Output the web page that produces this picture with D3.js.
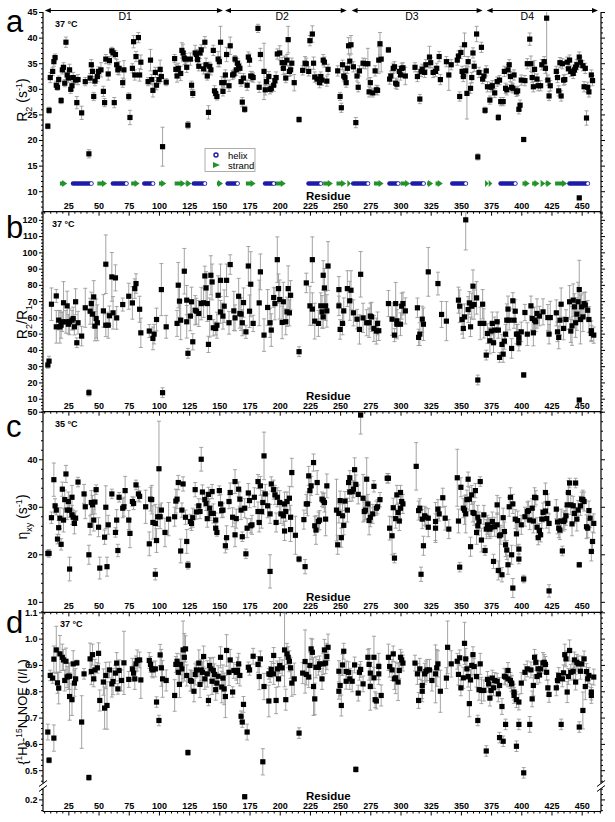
<!DOCTYPE html>
<html>
<head>
<meta charset="utf-8">
<script src="https://cdn.jsdelivr.net/npm/d3@7"></script>
<style>
  body { margin: 0; background: #fff; }
  svg { display: block; font-family: "Liberation Sans", Arial, sans-serif; }
</style>
</head>
<body>
<svg id="chart" width="615" height="822"></svg>
<script>
// [residue, value, error]
const r2Rows = [
[8,22.7,.5],[9,25.8,.6],[10,32.2,1],[12,33.4,.8],[13,35.3,.9],[14,36.1,.7],[15,30.7,.8],[16,30.3,.6],[17,31.8,.7],[19,27.7,.6],[20,33.7,.8],[21,34.2,.9],[22,31.1,.7],[23,39.1,1],[24,32.7,.8],[25,32.1,.9],[26,33.7,1.1],[27,29.9,.8],[28,30.6,.9],[29,32.2,1],[31,31.7,.8],[32,27.3,1.2],[33,31.8,1],[36,25.3,1.3],[39,31.4,.8],[42,17.3,.8],[43,32.1,.9],[44,34.7,1],[45,33.4,1.1],[46,28.5,.8],[47,31.5,.9],[49,32.4,1],[50,33.4,.9],[52,33.7,1.4],[54,29.5,1],[55,27.3,.8],[56,35.8,.9],[58,32.9,1.2],[59,35.5,.8],[61,37.4,.7],[62,37,.8],[63,27.3,1],[64,36.7,.8],[65,34.7,1],[66,33.7,.9],[67,34,1.3],[70,31.2,.9],[71,33.7,1.8],[75,28.5,.7],[76,24.4,1.4],[78,34,.9],[79,39.2,1.2],[80,32.7,1],[81,36.3,1],[83,40,1],[84,32.7,1.2],[85,35.2,1.4],[91,31.4,.8],[93,35.6,2.1],[94,31.8,1],[95,29.7,1.3],[97,33.2,1],[98,30.7,.9],[100,31.8,.8],[101,33.8,1.8],[102,32.4,1],[103,18.7,3.8],[106,31.3,.7],
[113,35.9,.8],[114,33.8,1],[115,32.5,1.2],[116,34,1],[118,33,1.4],[119,37.5,1.5],[120,37,1.7],[121,36,1.3],[122,35.8,1.1],[123,34.2,1],[124,22.9,.7],[126,35.8,1.2],[127,30.7,.8],[128,29.1,.8],[130,37,1.5],[131,36.7,1],[132,35.7,1],[133,34.4,.9],[134,37,1.1],[135,37.6,1],[137,33.9,1],[138,39.1,1.1],[139,34.7,1.3],[140,32.5,.8],[141,25.4,1.3],[142,34.4,.8],[143,33.7,1],[145,37.5,1],[146,29.6,1],[147,29.1,.9],[148,28.5,.7],[149,35.8,1.5],[150,35.3,1],[151,39.1,3.1],[152,31.2,1.2],[153,29.5,.9],
[154,31.2,1],[155,32.7,1],[156,36.7,1.4],[158,30.6,1.1],[159,38.4,1.7],[161,32.7,.9],[162,32.9,.8],[163,35.8,.7],[164,33.7,1.1],[165,35,.9],[166,34.4,1],[167,34,1],[168,31.4,.9],[169,27.4,.9],[170,32.1,.9],[171,26,.6],[173,30.7,1],[174,36.2,1],[175,35.6,1.2],[176,32.5,.9],[177,32.4,1],[178,32.2,.9],[182,41.8,.8],[183,30.3,1],[184,36.7,1.2],[187,33.4,5.5],[188,29.8,1],[189,31.4,.8],[191,32.4,1],[192,29.9,.9],[193,30.1,.8],[195,30.7,1.2],[196,31.6,1],[197,32.2,1.1],[198,36.8,1],[200,37,1.4],[202,35.1,1],[203,34,1.2],[204,35.1,1.3],[205,32.1,.9],[206,35.6,1.1],[207,39.6,2.6],[208,33.4,1],[209,33.7,1.1],[210,35,1],[212,31.2,1.6],[216,24,.5],[219,33.6,.9],[221,35,1.3],[222,34.9,1.1],[224,33.4,.9],[225,39.4,1],[227,40.7,1.6],[228,35,1.2],[229,32.3,1],[231,31.9,.9],[233,31.2,1],[234,32.4,.9],[235,31.7,1],[236,35.6,1.1],[237,35.2,1],[239,31.5,1],[240,33.8,1],
[248,33.5,1],[250,28.5,.8],[251,26.3,.9],[252,34.7,.9],[253,32.5,1],[254,32.2,.9],[255,31.2,.9],[256,34,1],[257,38.4,1.6],[258,35.4,1.2],[259,38.6,1.8],[261,34.3,1],[263,23.4,1],[264,32.5,1],[265,30.3,.9],[266,33.5,1],[269,35,1],[271,34.9,1],[273,34.9,3],[274,29.4,1],[275,31.2,1],[277,29.2,.8],[279,33.5,1],[280,29.8,.9],[281,29.7,.9],[282,35.6,2.6],[283,38.8,2.2],[284,35.8,2.5],[290,37.6,.5],[291,31.9,1],[292,32.5,1],[294,34,1],[295,34.3,1],[296,31.1,1],[297,30.9,1],[299,33.4,1],[300,32.7,1],[301,34,1],[302,34.1,1],[304,32.5,1.7],[312,34.2,.9],[314,32.4,1],[316,28,.9],[317,33.4,1],[318,33.8,1],[320,33.2,1],[321,34.7,1],[324,36.2,2.1],[325,35.1,1],[327,33.2,1],[329,33.4,1],[330,34,1],[332,36.3,1],[333,31.8,1],[338,35.3,1],[340,32.7,3],[342,34.7,1],[347,35.6,1],[348,36.4,1],[349,28.5,.9],[350,37.1,1.2],[351,33.4,1],[352,32.4,1],[353,38.6,2.3],[354,33.5,1],[355,29.1,5],[356,35.3,1],[358,30.1,1],[359,32.2,1],[360,37,1],[361,34.4,1],[363,40.7,1.5],[364,16.7,.6],[365,33.2,1],[367,38.1,1],[368,31.9,.9],[369,32.5,1],
[370,25.8,.6],[371,33.5,1],[372,30.4,1],[374,27.8,.8],[375,30.3,.9],[376,30.6,1],[378,29.2,.9],[380,31.4,.9],[381,24.4,.6],[382,31.7,.9],[383,27.5,.8],[385,27.5,.8],[386,33.4,1],[387,30.1,1],[388,29.8,1],[389,33.7,1],[390,34.7,1],[391,32.4,1],[392,30.3,.9],[393,30.1,.9],[394,32.7,1],[396,29.4,.9],[397,29.6,.9],[398,26,.9],[399,26.8,1],[400,31.7,1],[402,20.1,.4],[403,31.6,1],[405,34.9,1],[407,39.7,1.2],[408,34.9,1.5],[409,32.2,1],[410,30.4,1],[411,33.8,1.7],[413,31.9,1],[414,30.6,1],[416,30.6,1],[417,34.7,1],[419,35.3,1],[420,34,1],[421,43.8,12],[422,31.7,1],[423,28.6,.9],[424,30.6,1],[429,33.4,1],[430,32.2,1],[431,29.6,1],[432,35.1,1],[433,28.6,1],[434,34.9,1],[435,31.7,1],[436,31.8,1],[438,35.2,1],[439,33.9,1],[440,35.6,1],[441,33.4,1],[443,33,1],[444,33.7,1],[445,34.2,1],[446,34.7,1],[448,36.2,1],[449,35.2,1],[451,34.5,1],[452,30.4,1],[453,34,1],[454,24.3,1.4],[455,30.3,1],[456,29.4,1],[458,32.7,1],[459,31.6,1],[448,8.7,0]
];

const ratioRows = [
[8,30.7,2],[9,33.1,3],[11,68.1,10],[15,73.2,4],[15,54.2,10],[17,58.3,6],[18,54.2,10],[19,55.2,8],[20,57.3,6],[21,69,13],[23,57.3,7],[24,67.1,9],[25,55.8,6],[26,57.3,8],[28,58.3,6],[29,59.3,7],[30,54.2,5],[31,69.6,8],[32,44.4,3],[33,56.7,7],[36,48.5,6],[39,65.9,12],[42,13.7,2],[43,63.8,8],[44,68.5,7],[45,62,8],[46,72.6,10],[47,54.6,9],[48,59.3,12],[49,56.7,11],[54,64,10],[56,92.7,18],[56,55.2,7],[58,55.2,8],[59,61,6],[61,84.9,15],[62,62.8,10],[64,84.3,8],[65,59.7,7],[70,67.9,4],[75,73,8],[78,68.9,10],[80,77.7,6],[81,80.8,6],[84,65,8],[85,50.5,9],[92,51.6,4],[95,47.1,7],[96,49.7,6],[98,58.7,7],[102,77.1,16],[103,13.7,3],[106,54.2,7],
[115,56.3,8],[116,79.8,14],[117,70,10],[118,58.3,12],[121,88.4,14],[123,70.6,9],[123,57.3,10],[124,37.9,3],[126,60.8,9],[127,69.6,9],[128,45,5],[130,64.4,9],[131,63.8,8],[133,62.4,8],[135,68.5,10],[137,69,9],[138,85.5,6],[139,78.1,10],[140,68.5,11],[141,43.4,5],[142,59.9,12],[143,85.9,12],[144,81.8,11],[145,53.6,5],[147,53.2,4],[148,55.2,8],[149,73.6,12],[151,82.8,10],[151,63.4,7],[153,60.8,8],[154,66.9,10],[156,82.8,10],[158,56.7,7],[159,92.5,6],[162,64,12],[163,59.7,8],[166,73,11],[167,62.4,9],[168,62,10],[169,56.7,8],[170,69.1,9],[172,51.1,4],[174,91.6,12],[175,63.8,10],[176,80.4,20],[178,56.3,5],[183,68.9,14],[184,88,11],[187,49.1,10],[190,66.1,11],[192,56.7,9],[193,52.2,10],[195,72.2,6],[196,68.5,10],[198,95.5,14],[199,77.7,9],[200,71,12],[202,56.9,10],[203,69.6,12],[205,57.3,8],[206,63.4,9],[207,77.7,14],[208,62.8,8],[209,73.6,9],[216,38.9,3],
[222,81.2,6],[225,67.1,12],[227,65.1,10],[227,95.5,14],[229,57.7,11],[232,56.3,8],[234,67.1,8],[235,63.4,10],[236,60.3,7],[236,85.9,9],[237,78.1,12],[238,67.1,9],[239,64,10],[240,91.6,15],[249,77.1,8],[249,67.1,6],[250,52.6,6],[252,56.3,7],[253,64,8],[256,77.7,11],[258,70.2,12],[259,76.7,12],[261,62.8,8],[264,58.9,6],[266,52.6,9],[267,86.5,14],[269,59.7,9],[272,56.7,8],[274,56.7,9],[275,60.8,8],[276,60.3,9],[278,53.2,8],[280,51.6,8],[281,56.3,7],[282,51.8,6],[290,68.5,8],[293,58.9,10],[295,49.1,4],[296,68.5,13],[297,55.8,9],[297,57.9,10],[300,55.8,7],[301,66.9,8],[302,68.5,7],[304,64,8],[314,65.9,6],[315,47.7,5],[316,49.7,7],[318,58.9,8],[319,55.8,10],[323,88,15],[331,80.8,7],[334,61.8,8],[338,57.7,12],
[348,70.6,8],[349,66.9,10],[351,58.7,9],[352,53.2,6],[353,60.3,8],[354,120,18.5],[356,64.8,8],[357,68.9,7],[358,54.2,6],[359,66.9,8],[360,79.2,10],[361,67.9,9],[363,72,10],[364,21.5,3],[366,56.3,10],[368,68.1,9],[369,56.3,9],[371,36.8,3],[372,50.1,6],[374,45.6,8],[375,51.6,5],[376,56.3,7],[377,44.4,6],[378,52.2,8],[380,57.3,6],[381,52.2,5],[382,35.4,3],[384,43.4,6],[385,37.4,5],[386,45.4,5],[387,49.7,6],[388,58.3,10],[389,65.1,8],[390,58.3,6],[392,40.9,6],[393,70.2,5],[394,58.3,5],[395,63.8,7],[396,49.7,6],[397,49.7,6],[398,44.4,5],[398,47.5,5],[400,51.1,6],[402,24.6,1.5],[403,63,5],[405,49.7,7],[408,67.1,6],[409,59.3,7],[410,50.5,8],[411,58.3,8],[412,57.3,6],[413,62.4,9],[415,60.8,6],[418,63.4,8],[422,59.9,8],[423,49.7,6],[424,59.9,10],[429,62.8,8],[430,51.1,6],[431,47.7,7],[432,58.3,9],[433,68.1,10],[435,53.2,7],[437,58.7,6],[440,69.6,10],[441,51.6,7],[442,54.8,12],[443,70.6,10],[444,66.5,8],[445,56.7,9],[446,62,10],[447,69.6,12],[448,77.1,18],[449,58.7,15],[450,66.5,8],[451,60.3,9],[452,68.5,7],[453,67.5,8],[455,64.4,6],[456,58.7,8],[458,51.8,6],[458,50.1,5],[460,49.1,5],[448,9.2,.5]
];

const etaRows = [
[8,20.2,.7],[9,20.2,.8],[11,27.7,1.2],[13,35.7,3.5],[14,30.2,1.5],[15,29.3,1],[16,23.2,1],[17,25.6,1.5],[18,27.6,2.2],[19,22.1,1.2],[20,33.7,1.5],[21,27.2,2.5],[22,31.5,2],[23,36.9,1.8],[24,29.3,2],[25,31.1,2],[26,16.9,2.5],[26,29.3,1.5],[28,32,2.5],[28,28.3,2],[29,27.8,1.5],[30,26.5,2.2],[31,27.6,1.5],[33,35.2,1],[38,32.7,2],[39,30,2.5],[42,19.9,2],[43,26.1,2],[44,30.9,2.5],[45,30.4,2],[46,27.2,2.3],[47,31,2.5],[48,33.6,1],[50,25.7,2],[51,17.1,2.3],[55,23.6,1.5],[56,29.9,4.5],[57,17.4,2],[58,26.2,2],[61,32.7,1],[64,24.6,1],[65,27.2,2.2],[66,20.8,1.3],[67,32,1],[70,29.7,2],[71,30,2],[72,33.4,3],[75,27.2,2],[76,24.4,3],[78,31.1,1],[79,30.7,1.3],[81,34.6,1],[83,32.7,1.5],[84,32.2,1.2],[89,30,3.5],[92,22.2,2.5],[93,31.6,2.5],[94,31.5,3],[95,26.7,3.5],[97,26.5,4],[97,15.8,1.2],[98,22.9,2.5],[99,27.9,2],[100,38,10],[101,27.9,2.5],[102,29.3,1.5],[105,24.6,3],[108,27.4,3.5],
[113,27.9,2],[114,31.2,2.5],[115,31.6,2],[116,35.1,1.5],[118,20.7,2.5],[119,29.3,1.5],[120,34.8,1.5],[122,27.8,1.5],[123,22.7,2.5],[124,17.7,.8],[126,26.9,1.5],[127,26.5,1.5],[128,27.7,2],[130,33.6,1.5],[131,28.9,1.5],[133,30.2,1.5],[134,29,1.5],[135,40,2.5],[136,33.1,1.5],[138,31.5,1.5],[139,30.7,1.5],[140,27.5,1.8],[141,32.6,1.5],[142,29.7,2],[143,28.6,1.5],[144,33.2,1.5],[145,28.6,2],[147,27.2,1.5],[147,25.5,1],[148,24.6,.8],[150,33.4,1],[151,30.6,2],[152,29.2,1.5],[153,29.3,1.5],[155,21.8,1.5],[156,23.5,2.5],[158,31.1,1.5],[159,33,2],[161,27.8,2],[163,35.3,2.5],[163,24.1,2.5],[164,27.5,2],[166,33.7,1.5],[167,31.6,1.5],[168,29.3,2],[169,23.7,1],[171,29.7,2],[172,20.1,1],[173,25.5,2],[174,32.9,2],[175,31.3,1.5],[176,26,1.5],[177,26.2,2],[179,32,2],[182,29,2],[182,35.3,1.5],[183,26.7,2],[184,34.4,2],[185,29,3.5],[186,30.9,2.5],[187,40.7,5],[188,32.7,2],[190,30.2,2.5],[192,28.5,2],[192,16.4,3.5],[193,34.8,1.5],[195,33.6,2],[196,32.5,2],[197,26.7,2],[198,32,2],[200,30.9,2.5],[201,28.5,2],[203,28.1,2],[204,30.6,2.5],[204,24.9,2],[205,29,2],[206,31.1,2],[208,31.8,2.5],[209,27.8,2.5],[209,25.2,2.5],[210,37.2,3],[213,24,4],[216,19,.6],
[220,27.3,2],[221,17.4,1.5],[222,30.6,2],[223,30.6,2.5],[224,36.5,2],[225,33.4,2.5],[226,34.4,2],[228,39.3,1.8],[229,26,2],[230,25.1,3],[231,35.1,2.5],[232,26.9,2],[233,27.2,2],[235,31.6,1.5],[236,31.3,1.5],[237,30.9,2],[238,27.4,3.5],[239,34.4,2.5],[247,29.3,6.5],[248,22,2],[249,28.6,2],[250,31.3,2],[251,23.5,2],[252,28.1,2.5],[253,26.1,2],[254,31.2,2],[256,29.3,2.5],[257,35.1,1.5],[258,36.1,1.5],[258,33.1,2],[260,33.2,2],[261,33.7,1.8],[262,37.8,2.5],[263,34.7,2],[265,32.6,2],[267,49.3,4],[269,31.8,5],[270,29,2],[271,29.3,2],[272,35.8,4.5],[273,30.6,2],[274,27.1,3],[275,27.8,2],[277,28.5,2],[278,34.3,1.2],[280,29.7,1.5],[281,30,1.5],[283,31.5,1.5],[289,36,1],[290,36,1],[291,25.5,2.5],[293,23.9,4],[294,29.8,2],[295,19.2,1],[296,27.5,2],[297,32.5,2],[298,28.8,2],[299,27,2],[300,29.7,2.5],[300,33,1.5],[301,31.1,1.5],[302,30.6,2],
[313,38.5,5],[315,29.2,2],[316,29.7,2],[317,15.8,1.5],[318,27.4,2],[319,21.8,2],[320,28.1,2],[321,27.8,2],[323,25.7,2],[323,27.6,2],[329,26.9,4],[329,25.5,3],[331,29.5,2],[332,28.5,1.5],[335,31.9,2],[337,27.6,2.5],[340,25.3,2],[347,36.1,6],[348,27,2.5],[349,17.3,1],[350,34.1,2],[352,29.7,2],[353,29.3,3],[354,28.5,4],[355,31.5,2],[356,35.8,1.5],[357,31.6,2.5],[358,21.6,2],[359,32.5,2],[360,28.8,2],[361,28.6,2.5],[362,33.4,1.5],[363,24.6,2.5],[364,26,2],[364,27.8,2.5],[365,26.9,2],[366,35.3,1],[367,23,2.5],[369,28.3,2],
[370,20.8,1],[371,25.3,2],[372,26.2,2],[373,25.7,2],[374,25.3,2],[375,25.7,2],[376,26.9,2],[377,18.5,1.5],[378,25.8,2],[380,30.4,2],[380,26.2,2.5],[381,16.6,2],[382,23.9,8],[383,24.1,2],[384,15.7,1.5],[385,27.7,2],[386,24.8,2],[387,22,2.5],[388,20.9,2],[389,17.8,2],[390,30,2],[391,32,2],[392,19.9,2],[393,12.9,2],[393,30.6,2],[395,27.4,2],[396,24.3,2.5],[397,27.1,2],[398,21.1,1],[398,19,1],[400,26.2,2],[402,14.8,.8],[403,27.9,2],[405,29,2],[406,29.2,2],[407,27.2,2],[409,29.7,2],[410,27,2.5],[411,32,2],[412,31.9,1.5],[413,25.7,2],[414,23.5,1.5],[415,25,1.5],[416,24.1,1.5],[417,27.4,2],[418,28.8,2],[420,29.1,2],[420,33,2],[421,27.5,2],[422,30.7,2],[423,12.3,1.3],[423,26.5,2],[429,29.5,2],[430,26.8,2.5],[431,25.5,2],[432,25.1,2],[433,27,2.5],[434,20.7,1],[435,26.9,2],[436,27.2,2],[437,28.1,2],[438,30.4,2.5],[439,33,2.5],[440,35,1],[441,30.4,2],[442,26.4,2.5],[443,30.2,2],[444,28.6,2],[445,35,1],[446,27.4,2.5],[447,29.3,2],[448,17.8,.5],[449,30.2,2],[450,31.6,1.5],[451,31.5,2],[452,31.1,2],[454,25.8,2.5],[455,25.5,2],[456,29.2,2],[457,27.6,2],[458,20.6,2],[459,22.7,2],[460,26.5,2]
];

const noeRows = [
[8,.645,.03],[9,.538,.01],[10,.86,.02],[12,.85,.02],[13,.622,.05],[13,.922,.05],[15,.957,.09],[16,.832,.04],[17,.812,.06],[18,.942,.07],[20,.929,.05],[21,.919,.04],[22,.841,.04],[23,.914,.05],[24,.854,.04],[25,.857,.05],[26,.78,.09],[26,.857,.05],[28,.768,.06],[29,.904,.05],[30,.831,.05],[31,.847,.04],[32,.908,.01],[36,.683,.1],[38,.866,.02],[42,.472,.01],[43,.923,.06],[44,.875,.05],[45,.939,.04],[46,.847,.03],[47,.881,.04],[49,.889,.02],[50,.944,.04],[51,.765,.04],[54,.835,.05],[55,.736,.08],[56,.86,.05],[57,.746,.09],[59,.881,.03],[61,.828,.05],[62,.837,.05],[64,.869,.03],[65,.907,.04],[66,.809,.02],[67,.879,.04],[69,.841,.04],[71,.908,.12],[75,.845,.03],[78,.885,.04],[79,.869,.03],[80,.847,.04],[81,.904,.03],[82,.917,.04],[84,.919,.03],[85,.843,.07],[92,.917,.03],[93,.902,.03],[94,.885,.03],[95,.881,.03],[97,.885,.03],[98,.759,.02],[100,.689,.02],[101,.938,.04],[102,.889,.07],[103,.847,.07],[106,.841,.04],
[113,.784,.06],[114,.902,.03],[115,.914,.03],[116,.872,.04],[117,.826,.05],[118,.902,.04],[119,.885,.05],[120,.957,.11],[121,.929,.09],[122,.961,.05],[123,.86,.04],[124,.567,.01],[126,.841,.04],[127,.838,.04],[129,.8,.04],[130,.864,.04],[131,.881,.03],[133,.907,.05],[134,.826,.05],[135,.881,.04],[136,.872,.04],[137,.932,.04],[138,.847,.04],[140,.866,.05],[141,.765,.02],[142,.898,.03],[143,.885,.04],[144,.838,.05],[145,.879,.05],[146,.864,.04],[147,.806,.04],[148,.831,.04],[149,.857,.04],[151,.929,.04],[152,.816,.06],[153,.85,.05],[154,.809,.06],[155,.78,.08],[156,.955,.06],[158,.872,.05],[159,.919,.04],[161,.797,.02],[162,.879,.03],[164,.872,.03],[165,.879,.05],[166,.904,.04],[167,.86,.04],[168,.705,.02],[169,.683,.02],[170,.75,.03],[171,.21,.008],[173,.645,.03],[174,.891,.02],[175,.881,.02],[178,.933,.03],[182,.902,.03],[183,.856,.05],[184,.923,.03],[187,.818,.05],[186,.532,.05],[191,.763,.06],[191,.866,.02],[192,.864,.03],[193,.883,.03],[195,.936,.03],[195,.866,.04],[197,.765,.05],[198,.885,.03],[199,.847,.03],[200,.898,.03],[202,.889,.03],[204,.957,.14],[205,.768,.04],[206,.942,.04],[207,.929,.04],[208,.914,.04],[209,.889,.04],[210,.831,.05],[212,.847,.06],[216,.641,.02],
[219,.869,.04],[221,.913,.12],[222,.864,.04],[224,.854,.04],[225,.898,.05],[226,.961,.04],[227,.948,.05],[228,.818,.11],[229,.771,.06],[230,.891,.04],[232,.891,.03],[233,.904,.03],[235,.847,.04],[236,.904,.04],[237,.957,.04],[238,.907,.04],[239,.932,.05],[240,.967,.05],[249,.8,.03],[249,.876,.04],[250,.822,.04],[251,.746,.04],[252,.9,.04],[253,.952,.03],[255,.875,.04],[255,.838,.03],[257,.872,.04],[258,.847,.04],[260,.838,.04],[262,.9,.03],[263,.503,.01],[265,.793,.03],[266,.872,.03],[267,.883,.03],[269,.828,.03],[273,.929,.03],[274,.902,.06],[275,.818,.09],[275,.869,.04],[278,.851,.04],[278,.929,.08],[279,.768,.03],[280,.763,.03],[282,.866,.04],[282,.894,.05],[284,.784,.04],[290,.929,.05],[291,.894,.04],[293,.881,.04],[294,.942,.03],[295,.847,.04],[296,.851,.06],[298,.835,.07],[299,.879,.03],[300,.929,.03],[301,.919,.03],[302,.907,.03],
[312,.907,.03],[314,.866,.04],[315,.765,.03],[316,.885,.04],[318,.8,.04],[318,.822,.05],[320,.866,.04],[321,.875,.04],[322,.881,.04],[324,.881,.04],[326,.841,.04],[329,.866,.11],[330,.889,.07],[331,.904,.05],[333,.8,.08],[338,.85,.04],[339,.967,.1],[342,.904,.05],[347,.914,.03],[348,.864,.04],[349,.927,.03],[350,.813,.03],[352,.851,.04],[353,.982,.08],[354,.923,.04],[355,.885,.04],[356,.856,.04],[357,.753,.05],[358,.843,.04],[359,.898,.04],[360,.939,.03],[361,.894,.03],[363,.856,.04],[364,.689,.02],[365,.806,.04],[366,.904,.04],[367,.803,.05],[369,.803,.04],
[371,.573,.02],[372,.845,.03],[373,.828,.03],[374,.774,.03],[375,.803,.03],[376,.85,.03],[377,.813,.03],[378,.841,.03],[380,.838,.03],[381,.79,.03],[382,.624,.02],[382,.822,.03],[384,.742,.03],[385,.61,.02],[386,.857,.03],[387,.674,.02],[387,.854,.03],[389,.879,.03],[389,.847,.03],[391,.841,.03],[392,.828,.03],[392,.831,.03],[394,.784,.03],[394,.797,.03],[396,.768,.03],[396,.591,.02],[398,.674,.02],[398,.759,.03],[400,.831,.04],[402,.49,.02],[403,.872,.03],[405,.885,.03],[407,.674,.03],[408,.881,.03],[409,.771,.03],[410,.822,.04],[411,.929,.03],[412,.91,.03],[413,.856,.03],[414,.885,.03],[415,.862,.03],[416,.885,.03],[418,.907,.04],[419,.91,.03],[420,.902,.03],[421,.872,.03],[422,.813,.03],[423,.788,.03],[429,.813,.03],[430,.841,.03],[431,.86,.03],[433,.674,.02],[434,.847,.03],[435,.87,.03],[436,.939,.04],[437,.923,.03],[438,.797,.04],[439,.856,.03],[440,.955,.04],[441,.872,.03],[443,.876,.03],[444,.919,.03],[445,.835,.03],[446,.91,.03],[447,.904,.03],[448,.664,.02],[449,.876,.03],[450,.904,.03],[451,.727,.07],[452,.923,.03],[453,.818,.05],[454,.875,.03],[455,.847,.03],[456,.86,.03],[458,.797,.03],[458,.784,.03],[460,.854,.03]
];

// secondary structure (residue ranges)
const helices = [[27,46],[60,75],[86,97],[127,140],[155,167],[186,197],[222,236],[259,275],[289,300],[308,321],[341,356],[381,397],[438,457]];
const strands = [[18,24],[49,57],[77,84],[100,106],[113,122],[122,127],[148,153],[172,180],[196,205],[236,244],[247,255],[256,259],[278,286],[300,308],[322,327],[329,335],[370,373],[373,376],[401,407],[409,415],[416,420],[420,425],[428,438]];

// domains: name, start, end, label position
const domainNames = ["D1", "D2", "D3", "D4"];
const domainRanges = [[5.5,153],[154.7,255.5],[259.5,368],[371.3,463.5]];
const domainLabelAt = [72, 202, 309.5, 405];

const xMajor = d3.range(25, 451, 25);
const xMinor = d3.range(5, 466, 5).filter(v => v % 25 !== 0);

const svg = d3.select("#chart");
const plotLeft = 43, plotRight = 601;
const x = d3.scaleLinear().domain([4, 466]).range([plotLeft, plotRight]);

const blue = "#1c1ca8", green = "#22922a", errColor = "#9a9a9a";

const panels = [
  {
    id: "a", rows: r2Rows, top: 12, bottom: 211.7,
    y: d3.scaleLinear().domain([6, 45]).range([211.7, 12]),
    major: d3.range(10, 46, 5), minor: d3.range(6, 46, 1), fmt: d3.format("d"),
    temp: "37 °C", tempX: 55, letterY: 32,
    title: [["R"], ["2", "sub"], [" (s"], ["-1", "sup"], [")"]], titleY: 100
  },
  {
    id: "b", rows: ratioRows, top: 211.7, bottom: 411.7,
    y: d3.scaleLinear().domain([2, 125]).range([411.7, 211.7]),
    major: d3.range(10, 121, 10), minor: d3.range(2, 125, 2), fmt: d3.format("d"),
    temp: "37 °C", tempX: 52, letterY: 238,
    title: [["R"], ["2", "sub"], ["/R"], ["1", "sub"]], titleY: 322
  },
  {
    id: "c", rows: etaRows, top: 411.7, bottom: 612.3,
    y: d3.scaleLinear().domain([7.8, 50]).range([612.3, 411.7]),
    major: d3.range(10, 51, 10), minor: d3.range(8, 51, 2), fmt: d3.format("d"),
    temp: "35 °C", tempX: 55, letterY: 437,
    title: [["η"], ["xy", "sub"], [" (s"], ["-1", "sup"], [")"]], titleY: 517
  },
  {
    id: "d", rows: noeRows, top: 612.3, bottom: 811.5,
    y: d3.scaleLinear().domain([0.155, 0.25, 0.44, 1.1]).range([811.5, 786, 786, 612.3]),
    major: [0.2, 0.5, 0.6, 0.7, 0.8, 0.9, 1.0, 1.1],
    minor: d3.range(0.16, 0.25, 0.02).concat(d3.range(0.46, 1.1, 0.02)), fmt: d3.format(".1f"),
    temp: "37 °C", tempX: 60, letterY: 633,
    title: [["{"], ["1", "sup"], ["H}-"], ["15", "sup"], ["N NOE (I/I"], ["0", "sub"], [")"]], titleY: 712,
    titleSize: 13
  }
];

panels.forEach(p => {
  const g = svg.append("g").attr("class", "panel-" + p.id);
  const y = p.y;

  // clip so error bars stay in the frame
  svg.append("clipPath").attr("id", "clip-" + p.id)
    .append("rect").attr("x", plotLeft).attr("y", p.top)
    .attr("width", plotRight - plotLeft).attr("height", p.bottom - p.top);

  const marks = g.append("g").attr("clip-path", "url(#clip-" + p.id + ")");

  // error bars
  const eb = marks.append("g").attr("stroke", errColor).attr("stroke-width", 0.9);
  p.rows.filter(d => d[2] > 0).forEach(d => {
    const y1 = y(d[1] - d[2]), y2 = y(d[1] + d[2]), cx = x(d[0]);
    eb.append("line").attr("x1", cx).attr("x2", cx).attr("y1", y1).attr("y2", y2);
    eb.append("line").attr("x1", cx - 2).attr("x2", cx + 2).attr("y1", y1).attr("y2", y1);
    eb.append("line").attr("x1", cx - 2).attr("x2", cx + 2).attr("y1", y2).attr("y2", y2);
  });

  // points
  marks.append("g").selectAll("rect")
    .data(p.rows)
    .enter()
    .append("rect")
    .attr("x", d => x(d[0]) - 2.6)
    .attr("y", d => y(d[1]) - 2.6)
    .attr("width", 5.2)
    .attr("height", 5.2)
    .attr("fill", "#000");

  // frame
  g.append("line").attr("x1", plotLeft).attr("x2", plotLeft).attr("y1", p.top).attr("y2", p.bottom).attr("stroke", "#000").attr("stroke-width", 1.2);
  g.append("line").attr("x1", plotRight).attr("x2", plotRight).attr("y1", p.top).attr("y2", p.bottom).attr("stroke", "#000").attr("stroke-width", 1.2);
  g.append("line").attr("x1", plotLeft).attr("x2", plotRight).attr("y1", p.bottom).attr("y2", p.bottom).attr("stroke", "#000").attr("stroke-width", 1.2);

  const minorOnly = p.minor.filter(v => !p.major.some(m => Math.abs(m - v) < 1e-6));

  // left axis
  const la = g.append("g").attr("transform", "translate(" + plotLeft + ",0)")
    .call(d3.axisLeft(y).tickValues(p.major).tickSize(4).tickPadding(1.5).tickFormat(p.fmt));
  la.append("g").call(d3.axisLeft(y).tickValues(minorOnly).tickSize(2).tickFormat(""));
  // right axis
  const ra = g.append("g").attr("transform", "translate(" + plotRight + ",0)")
    .call(d3.axisRight(y).tickValues(p.major).tickSize(4).tickFormat(""));
  ra.append("g").call(d3.axisRight(y).tickValues(minorOnly).tickSize(2).tickFormat(""));
  // bottom axis: ticks hang down, labels sit inside the frame
  const ba = g.append("g").attr("transform", "translate(0," + p.bottom + ")")
    .call(d3.axisTop(x).tickValues(xMajor).tickSizeInner(-4).tickSizeOuter(0).tickPadding(3).tickFormat(d3.format("d")));
  ba.append("g").call(d3.axisTop(x).tickValues(xMinor).tickSizeInner(-2).tickSizeOuter(0).tickFormat(""));

  [la, ra, ba].forEach(a => {
    a.selectAll(".domain").remove();
    a.selectAll("line").attr("stroke", "#000");
    a.selectAll("text").attr("font-size", 9).attr("font-weight", "bold")
      .attr("font-family", "Liberation Sans, Arial, sans-serif").attr("fill", "#000");
  });

  // labels
  g.append("text").attr("x", 306).attr("y", p.bottom - 11.5)
    .attr("font-size", 11.5).attr("font-weight", "bold").text("Residue");
  g.append("text").attr("x", p.tempX).attr("y", p.top + 15)
    .attr("font-size", 9).attr("font-weight", "bold").text(p.temp);
  g.append("text").attr("x", 6).attr("y", p.letterY)
    .attr("font-size", 31).text(p.id);

  const size = p.titleSize || 14;
  const t = g.append("text")
    .attr("transform", "translate(27," + p.titleY + ") rotate(-90)")
    .attr("text-anchor", "middle")
    .attr("font-size", size);
  p.title.forEach(part => {
    const s = t.append("tspan").text(part[0]);
    if (part[1] === "sub") s.attr("baseline-shift", "sub").attr("font-size", size * 0.65);
    if (part[1] === "sup") s.attr("baseline-shift", "super").attr("font-size", size * 0.65);
  });
});

// axis break marks in panel d
const yBreak = 786;
[plotLeft, plotRight].forEach(bx => {
  svg.append("rect").attr("x", bx - 1.5).attr("y", yBreak - 2.5).attr("width", 3).attr("height", 5).attr("fill", "#fff");
  [-2.5, 2.5].forEach(off => {
    svg.append("line")
      .attr("x1", bx - 4).attr("y1", yBreak + off + 3)
      .attr("x2", bx + 4).attr("y2", yBreak + off - 3)
      .attr("stroke", "#000").attr("stroke-width", 1);
  });
});

// domain arrows across the top
const arrowY = 10.5;
const domainG = svg.append("g");
domainRanges.forEach((r, i) => {
  const x1 = x(r[0]), x2 = x(r[1]);
  domainG.append("line").attr("x1", x1 + 3).attr("x2", x2 - 3).attr("y1", arrowY).attr("y2", arrowY)
    .attr("stroke", "#000").attr("stroke-width", 1);
  domainG.append("path").attr("d", `M${x1},${arrowY} L${x1 + 6},${arrowY - 2.5} L${x1 + 6},${arrowY + 2.5} Z`).attr("fill", "#000");
  domainG.append("path").attr("d", `M${x2},${arrowY} L${x2 - 6},${arrowY - 2.5} L${x2 - 6},${arrowY + 2.5} Z`).attr("fill", "#000");
  domainG.append("text").attr("x", x(domainLabelAt[i])).attr("y", 20)
    .attr("text-anchor", "middle").attr("font-size", 10.5).text(domainNames[i]);
});

// secondary structure row in panel a
const ssY = panels[0].y(11.5);
const ss = svg.append("g");
strands.forEach(s => {
  const x1 = x(s[0]), x2 = x(s[1]), hx = Math.max(x1, x2 - 5);
  ss.append("path")
    .attr("d", `M${x1},${ssY - 2} L${hx},${ssY - 2} L${hx},${ssY - 3.5} L${x2},${ssY} L${hx},${ssY + 3.5} L${hx},${ssY + 2} L${x1},${ssY + 2} Z`)
    .attr("fill", green);
});
helices.forEach(h => {
  const x1 = x(h[0]), x2 = x(h[1]);
  ss.append("rect").attr("x", x1).attr("y", ssY - 2.3).attr("width", x2 - x1).attr("height", 4.6)
    .attr("rx", 2.3).attr("fill", blue);
  ss.append("circle").attr("cx", x2 - 2.4).attr("cy", ssY).attr("r", 1.5).attr("fill", "#fff");
});

// legend
const lg = svg.append("g");
lg.append("rect").attr("x", 205).attr("y", 148.5).attr("width", 50).attr("height", 23)
  .attr("fill", "#fff").attr("stroke", "#999").attr("stroke-width", 0.8);
lg.append("circle").attr("cx", 216).attr("cy", 155).attr("r", 2).attr("fill", "#fff")
  .attr("stroke", blue).attr("stroke-width", 1.4);
lg.append("path").attr("d", "M213,162 L220,165 L213,168 Z").attr("fill", green);
lg.append("text").attr("x", 228).attr("y", 158.5).attr("font-size", 9.5).text("helix");
lg.append("text").attr("x", 228).attr("y", 168.5).attr("font-size", 9.5).text("strand");
</script>
</body>
</html>
